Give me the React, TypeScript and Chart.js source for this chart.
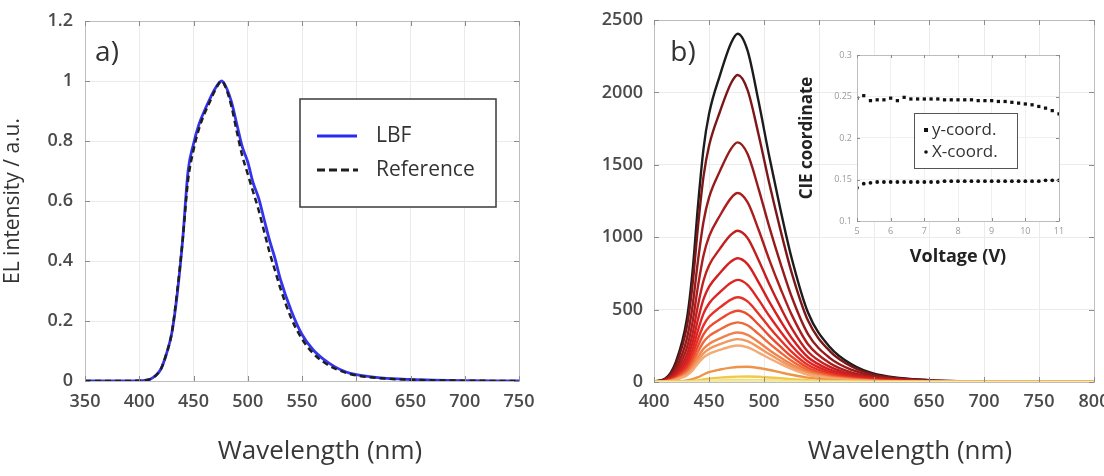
import React, { useEffect, useRef } from "react";
import { Chart, registerables } from "chart.js";
Chart.register(...registerables);

const FONT = "'Open Sans', 'DejaVu Sans', sans-serif";

// ---------- Panel a ----------
const waveA = [350, 380, 400, 405, 410, 415, 420, 425, 430, 435, 440, 445, 450, 455, 460, 465, 470, 476, 480, 485, 490, 495, 500, 505, 510, 515, 520, 525, 530, 540, 550, 560, 570, 580, 590, 600, 620, 650, 700, 750];
const lbf = [0, 0, 0.001, 0.002, 0.006, 0.018, 0.04, 0.09, 0.16, 0.29, 0.47, 0.7, 0.79, 0.855, 0.9, 0.94, 0.975, 1.0, 0.98, 0.93, 0.855, 0.78, 0.73, 0.66, 0.61, 0.54, 0.47, 0.41, 0.34, 0.235, 0.155, 0.105, 0.072, 0.048, 0.031, 0.021, 0.011, 0.005, 0.001, 0];
const reference = [0, 0, 0.001, 0.002, 0.006, 0.017, 0.04, 0.09, 0.16, 0.3, 0.47, 0.67, 0.77, 0.84, 0.89, 0.93, 0.97, 1.0, 0.975, 0.915, 0.83, 0.75, 0.69, 0.63, 0.57, 0.5, 0.43, 0.37, 0.31, 0.21, 0.14, 0.093, 0.063, 0.042, 0.028, 0.019, 0.01, 0.004, 0.001, 0];
const xTicksA = [350, 750, 50];
const yTicksA = [0, 1.2, 0.2];

// ---------- Panel b ----------
const waveB = [400, 410, 420, 430, 435, 440, 445, 450, 460, 470, 476, 485, 495, 505, 515, 525, 540, 560, 580, 600, 650, 700, 800];
const em2405 = [5, 22, 140, 440, 760, 1220, 1610, 1850, 2120, 2340, 2405, 2290, 1940, 1550, 1190, 860, 480, 240, 120, 58, 13, 4, 0];
const em2120 = [4, 19, 123, 388, 670, 1075, 1418, 1630, 1868, 2063, 2120, 2018, 1711, 1365, 1049, 759, 424, 212, 106, 51, 11, 4, 0];
const em1655 = [3, 15, 96, 303, 523, 839, 1107, 1273, 1458, 1610, 1655, 1576, 1336, 1066, 819, 592, 331, 165, 83, 40, 9, 3, 0];
const em1305 = [3, 12, 76, 239, 412, 662, 873, 1004, 1150, 1270, 1305, 1242, 1053, 840, 646, 467, 261, 130, 65, 31, 7, 2, 0];
const em1045 = [2, 10, 61, 191, 330, 530, 699, 804, 921, 1017, 1045, 995, 843, 673, 517, 374, 209, 104, 52, 25, 6, 2, 0];
const em855 = [2, 8, 50, 156, 270, 433, 572, 657, 753, 832, 855, 814, 690, 551, 423, 306, 171, 85, 43, 21, 5, 1, 0];
const em705 = [1, 6, 41, 129, 223, 357, 472, 542, 621, 686, 705, 671, 569, 454, 349, 252, 141, 70, 35, 17, 4, 1, 0];
const em585 = [1, 5, 34, 107, 185, 297, 391, 450, 515, 569, 585, 557, 472, 377, 290, 209, 117, 58, 29, 14, 3, 1, 0];
const em492 = [1, 4, 29, 90, 155, 249, 329, 378, 433, 479, 492, 468, 397, 317, 244, 176, 98, 49, 25, 12, 3, 1, 0];
const em412 = [1, 4, 24, 75, 130, 209, 276, 317, 363, 401, 412, 392, 332, 265, 204, 147, 82, 41, 21, 10, 2, 1, 0];
const em342 = [1, 3, 20, 63, 108, 173, 229, 263, 301, 333, 342, 326, 276, 220, 169, 122, 68, 34, 17, 8, 2, 1, 0];
const em296 = [1, 3, 17, 54, 94, 150, 198, 228, 261, 288, 296, 282, 239, 191, 147, 106, 59, 30, 15, 7, 2, 1, 0];
const em252 = [1, 2, 15, 46, 80, 128, 169, 194, 222, 245, 252, 240, 203, 162, 125, 90, 50, 25, 13, 6, 1, 0, 0];
const em105 = [0, 1, 3, 11, 20, 33, 52, 68, 86, 99, 104, 105, 97, 83, 66, 50, 30, 14, 7, 3, 1, 0, 0];
const em38 = [0, 0, 1, 3, 7, 11, 18, 23, 30, 35, 37, 38, 36, 31, 26, 20, 12, 7, 3, 1, 0, 0, 0];
const em14 = [0, 0, 0, 1, 2, 4, 6, 8, 11, 13, 14, 14, 13, 11, 9, 7, 4, 2, 1, 0, 0, 0, 0];
const em5 = [0, 0, 0, 0, 1, 1, 2, 3, 4, 5, 5, 5, 5, 4, 3, 2, 1, 1, 0, 0, 0, 0, 0];
// drawn order: first listed ends on top
const spectraB = [em5, em14, em38, em105, em252, em296, em342, em412, em492, em585, em705, em855, em1045, em1305, em1655, em2120, em2405];
const spectraColors = ["#f3eaa6", "#f1de74", "#f0c84c", "#ee9446", "#f3aa74", "#f2975e", "#f0824c", "#ee6838", "#eb4a2e", "#e63226", "#e02424", "#d42020", "#c21f1f", "#ac1e1e", "#961b1b", "#7d1717", "#1c1c1c"];
const xTicksB = [400, 800, 50];
const yTicksB = [0, 2500, 500];

// ---------- Inset ----------
const voltage = [5, 5.2, 5.4, 5.6, 5.8, 6, 6.2, 6.4, 6.6, 6.8, 7, 7.2, 7.4, 7.6, 7.8, 8, 8.2, 8.4, 8.6, 8.8, 9, 9.2, 9.4, 9.6, 9.8, 10, 10.2, 10.4, 10.6, 10.8, 11];
const cieY = [0.248, 0.251, 0.245, 0.246, 0.246, 0.248, 0.245, 0.249, 0.247, 0.247, 0.247, 0.247, 0.247, 0.246, 0.246, 0.246, 0.246, 0.246, 0.245, 0.245, 0.245, 0.244, 0.244, 0.243, 0.242, 0.241, 0.24, 0.238, 0.236, 0.233, 0.229];
const cieX = [0.14, 0.145, 0.146, 0.147, 0.147, 0.147, 0.147, 0.147, 0.147, 0.147, 0.147, 0.147, 0.147, 0.148, 0.148, 0.148, 0.148, 0.148, 0.148, 0.148, 0.148, 0.148, 0.148, 0.148, 0.148, 0.148, 0.148, 0.148, 0.149, 0.149, 0.149];
const xTicksC = [5, 11, 1];
const yTicksC = [0.1, 0.3, 0.05];

const pts = (xs: number[], ys: number[]) => xs.map((x, i) => ({ x, y: ys[i] }));

const tickFont = { family: FONT, size: 18, weight: "600" as const };
const tickColor = "#4a4a4a";

function frameDeco(tickLen: number) {
  return {
    id: "frameDeco",
    afterDraw(chart: any) {
      const { ctx, chartArea: a, scales } = chart;
      ctx.save();
      ctx.lineWidth = 1;
      ctx.strokeStyle = "#bdbdbd";
      ctx.strokeRect(Math.round(a.left) + 0.5, Math.round(a.top) + 0.5, Math.round(a.right - a.left), Math.round(a.bottom - a.top));
      ctx.strokeStyle = "#8c8c8c";
      ctx.beginPath();
      for (const t of scales.x.ticks) {
        const p = Math.round(scales.x.getPixelForValue(t.value)) + 0.5;
        ctx.moveTo(p, a.bottom); ctx.lineTo(p, a.bottom - tickLen);
        ctx.moveTo(p, a.top); ctx.lineTo(p, a.top + tickLen);
      }
      for (const t of scales.y.ticks) {
        const p = Math.round(scales.y.getPixelForValue(t.value)) + 0.5;
        ctx.moveTo(a.left, p); ctx.lineTo(a.left + tickLen, p);
        ctx.moveTo(a.right, p); ctx.lineTo(a.right - tickLen, p);
      }
      ctx.stroke();
      ctx.restore();
    },
  };
}

function textDeco(items: { text: string; x: number; y: number; font: string; color: string; align?: CanvasTextAlign }[]) {
  return {
    id: "textDeco",
    afterDraw(chart: any) {
      const ctx = chart.ctx;
      ctx.save();
      for (const it of items) {
        ctx.font = it.font;
        ctx.fillStyle = it.color;
        ctx.textAlign = it.align || "center";
        ctx.textBaseline = "middle";
        ctx.fillText(it.text, it.x, it.y);
      }
      ctx.restore();
    },
  };
}

const legendA = {
  id: "legendA",
  afterDraw(chart: any) {
    const ctx = chart.ctx;
    ctx.save();
    ctx.fillStyle = "#ffffff";
    ctx.fillRect(300, 99, 196, 108);
    ctx.strokeStyle = "#3a3a3a";
    ctx.lineWidth = 1.5;
    ctx.strokeRect(300, 99, 196, 108);
    ctx.lineWidth = 3;
    ctx.strokeStyle = "#2b2bf0";
    ctx.beginPath(); ctx.moveTo(317, 136); ctx.lineTo(357, 136); ctx.stroke();
    ctx.strokeStyle = "#1e1e1e";
    ctx.setLineDash([8, 4]);
    ctx.beginPath(); ctx.moveTo(317, 170); ctx.lineTo(358, 170); ctx.stroke();
    ctx.setLineDash([]);
    ctx.font = `21px ${FONT}`;
    ctx.fillStyle = "#333333";
    ctx.textAlign = "left";
    ctx.textBaseline = "middle";
    ctx.fillText("LBF", 376, 136);
    ctx.fillText("Reference", 376, 170);
    ctx.restore();
  },
};

const legendC = {
  id: "legendC",
  afterDraw(chart: any) {
    const ctx = chart.ctx;
    ctx.save();
    ctx.fillStyle = "#ffffff";
    ctx.fillRect(139, 73, 103, 55);
    ctx.strokeStyle = "#555555";
    ctx.lineWidth = 1;
    ctx.strokeRect(139.5, 73.5, 103, 55);
    ctx.fillStyle = "#111111";
    ctx.fillRect(149, 88, 4, 4);
    ctx.beginPath(); ctx.arc(151, 112, 1.8, 0, Math.PI * 2); ctx.fill();
    ctx.font = `17px ${FONT}`;
    ctx.fillStyle = "#333333";
    ctx.textAlign = "left";
    ctx.textBaseline = "middle";
    ctx.fillText("y-coord.", 157, 90);
    ctx.fillText("X-coord.", 157, 112);
    ctx.restore();
  },
};

const whiteArea = {
  id: "whiteArea",
  beforeDraw(chart: any) {
    const { ctx, chartArea: a } = chart;
    ctx.save();
    ctx.fillStyle = "#ffffff";
    ctx.fillRect(a.left, a.top, a.right - a.left, a.bottom - a.top);
    ctx.restore();
  },
};

function fixY(w: number) {
  return (s: any) => { s.width = w; s.paddingTop = 0; s.paddingBottom = 0; };
}
function fixX(h: number) {
  return (s: any) => { s.height = h; s.paddingLeft = 0; s.paddingRight = 0; };
}

function configA(): any {
  return {
    type: "line",
    data: {
      datasets: [
        { label: "Reference", data: pts(waveA, reference), borderColor: "#1e1e1e", borderWidth: 2.5, borderDash: [6, 4], pointRadius: 0, cubicInterpolationMode: "monotone", fill: false },
        { label: "LBF", data: pts(waveA, lbf), borderColor: "#3434ee", borderWidth: 2.8, pointRadius: 0, cubicInterpolationMode: "monotone", fill: false },
      ],
    },
    options: {
      animation: false, responsive: false, devicePixelRatio: 1,
      layout: { padding: { top: 21, right: 21, left: 0, bottom: 0 } },
      plugins: { legend: { display: false }, tooltip: { enabled: false } },
      scales: {
        x: {
          type: "linear", min: xTicksA[0], max: xTicksA[1],
          ticks: { stepSize: xTicksA[2], padding: 10, color: tickColor, font: tickFont, maxRotation: 0 },
          grid: { color: "#ebebeb", drawTicks: false }, border: { display: false },
          afterFit: fixX(95),
        },
        y: {
          type: "linear", min: yTicksA[0], max: yTicksA[1],
          ticks: { stepSize: yTicksA[2], padding: 12, color: tickColor, font: tickFont, callback: (v: number) => String(Math.round(v * 10) / 10) },
          grid: { color: "#ebebeb", drawTicks: false }, border: { display: false },
          title: { display: true, text: "EL intensity / a.u.", color: "#333", font: { family: FONT, size: 21 }, padding: { top: 0, bottom: 0 } },
          afterFit: fixY(85),
        },
      },
    },
    plugins: [
      frameDeco(5),
      legendA,
      textDeco([
        { text: "a)", x: 107, y: 53, font: `28px ${FONT}`, color: "#333" },
        { text: "Wavelength (nm)", x: 320, y: 452, font: `26px ${FONT}`, color: "#383838" },
      ]),
    ],
  };
}

function configB(): any {
  return {
    type: "line",
    data: {
      datasets: spectraB.map((s, i) => ({
        label: `spectrum ${i + 1}`,
        data: pts(waveB, s),
        borderColor: spectraColors[i],
        borderWidth: 2.4,
        pointRadius: 0,
        cubicInterpolationMode: "monotone",
        fill: false,
      })),
    },
    options: {
      animation: false, responsive: false, devicePixelRatio: 1,
      layout: { padding: { top: 20, right: 10, left: 0, bottom: 0 } },
      plugins: { legend: { display: false }, tooltip: { enabled: false } },
      scales: {
        x: {
          type: "linear", min: xTicksB[0], max: xTicksB[1],
          ticks: { stepSize: xTicksB[2], padding: 9, color: tickColor, font: tickFont, maxRotation: 0, callback: (v: number) => String(v) },
          grid: { color: "#ebebeb", drawTicks: false }, border: { display: false },
          afterFit: fixX(94),
        },
        y: {
          type: "linear", min: yTicksB[0], max: yTicksB[1],
          ticks: { stepSize: yTicksB[2], padding: 11, color: tickColor, font: tickFont, callback: (v: number) => String(v) },
          grid: { color: "#ebebeb", drawTicks: false }, border: { display: false },
          afterFit: fixY(114),
        },
      },
    },
    plugins: [
      frameDeco(5),
      textDeco([
        { text: "b)", x: 143, y: 53, font: `28px ${FONT}`, color: "#333" },
        { text: "Wavelength (nm)", x: 370, y: 452, font: `26px ${FONT}`, color: "#383838" },
      ]),
    ],
  };
}

function configC(): any {
  return {
    type: "scatter",
    data: {
      datasets: [
        { label: "y-coord.", data: pts(voltage, cieY), backgroundColor: "#111", borderColor: "#111", pointStyle: "rect", pointRadius: 2.3, borderWidth: 0, showLine: false },
        { label: "X-coord.", data: pts(voltage, cieX), backgroundColor: "#111", borderColor: "#111", pointStyle: "circle", pointRadius: 1.9, borderWidth: 0, showLine: false },
      ],
    },
    options: {
      animation: false, responsive: false, devicePixelRatio: 1,
      layout: { padding: { top: 15, right: 16, left: 0, bottom: 0 } },
      plugins: { legend: { display: false }, tooltip: { enabled: false } },
      scales: {
        x: {
          type: "linear", min: xTicksC[0], max: xTicksC[1],
          ticks: { stepSize: xTicksC[2], padding: 5, color: "#9a9a9a", font: { family: FONT, size: 9 }, maxRotation: 0 },
          grid: { color: "#f0f0f0", drawTicks: false }, border: { display: false },
          title: { display: true, text: "Voltage (V)", color: "#222", font: { family: FONT, size: 18, weight: "bold" }, padding: { top: 0, bottom: 12 } },
          afterFit: fixX(59),
        },
        y: {
          type: "linear", min: yTicksC[0], max: yTicksC[1],
          ticks: { stepSize: yTicksC[2], padding: 5, color: "#9a9a9a", font: { family: FONT, size: 9 }, callback: (v: number) => String(Math.round(v * 100) / 100) },
          grid: { color: "#f0f0f0", drawTicks: false }, border: { display: false },
          title: { display: true, text: "CIE coordinate", color: "#222", font: { family: FONT, size: 17, weight: "bold" }, padding: { top: 22, bottom: 0 } },
          afterFit: fixY(82),
        },
      },
    },
    plugins: [whiteArea, frameDeco(3), legendC],
  };
}

export default function App() {
  const aRef = useRef<HTMLCanvasElement>(null);
  const bRef = useRef<HTMLCanvasElement>(null);
  const cRef = useRef<HTMLCanvasElement>(null);
  useEffect(() => {
    const charts = [
      new Chart(aRef.current as HTMLCanvasElement, configA()),
      new Chart(bRef.current as HTMLCanvasElement, configB()),
      new Chart(cRef.current as HTMLCanvasElement, configC()),
    ];
    return () => charts.forEach((c) => c.destroy());
  }, []);
  return (
    <div style={{ position: "absolute", left: 0, top: 0, width: 1104, height: 476, background: "#fff", overflow: "hidden" }}>
      <canvas ref={aRef} width={540} height={476} style={{ position: "absolute", left: 0, top: 0, width: 540, height: 476 }} />
      <canvas ref={bRef} width={564} height={476} style={{ position: "absolute", left: 540, top: 0, width: 564, height: 476 }} />
      <canvas ref={cRef} width={300} height={240} style={{ position: "absolute", left: 775, top: 40, width: 300, height: 240 }} />
    </div>
  );
}
